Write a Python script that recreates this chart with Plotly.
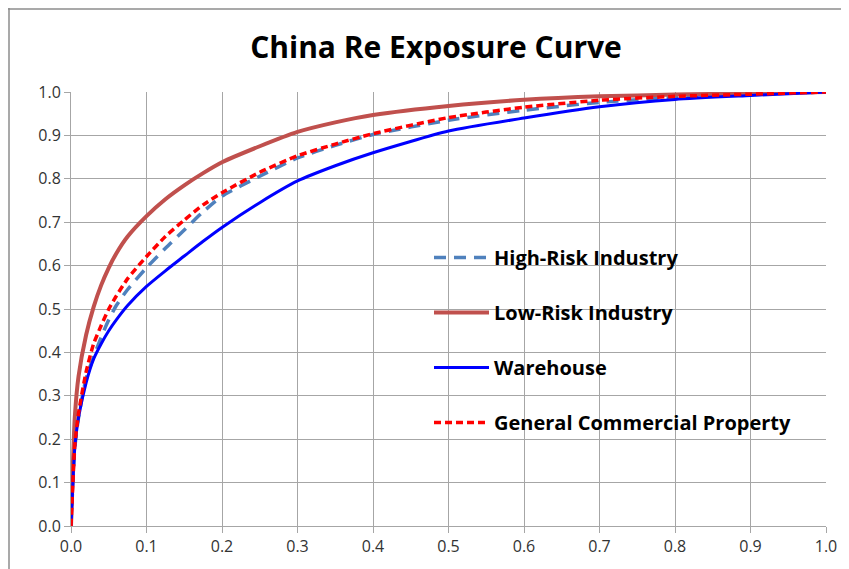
import plotly.graph_objects as go

x_share = [0, 0.0025, 0.005, 0.01, 0.02, 0.03, 0.04, 0.05, 0.06, 0.075, 0.1,
           0.125, 0.15, 0.175, 0.2, 0.25, 0.3, 0.35, 0.4, 0.5, 0.6, 0.7, 0.8,
           0.9, 1.0]

high_risk = [0, 0.10, 0.18, 0.25, 0.34, 0.39, 0.435, 0.475, 0.508, 0.545, 0.595,
             0.64, 0.682, 0.724, 0.76, 0.806, 0.848, 0.877, 0.902, 0.935, 0.958,
             0.976, 0.987, 0.995, 1.0]
low_risk = [0, 0.14, 0.25, 0.345, 0.44, 0.505, 0.555, 0.595, 0.628, 0.667, 0.714,
            0.753, 0.785, 0.813, 0.838, 0.875, 0.908, 0.93, 0.947, 0.968, 0.982,
            0.990, 0.994, 0.997, 1.0]
warehouse = [0, 0.10, 0.18, 0.25, 0.33, 0.385, 0.42, 0.45, 0.475, 0.508, 0.552,
             0.588, 0.622, 0.656, 0.688, 0.745, 0.795, 0.83, 0.860, 0.910, 0.94,
             0.966, 0.983, 0.992, 1.0]
general = [0, 0.10, 0.185, 0.26, 0.355, 0.42, 0.462, 0.50, 0.53, 0.57, 0.621,
           0.667, 0.705, 0.74, 0.768, 0.815, 0.853, 0.88, 0.904, 0.941, 0.965,
           0.981, 0.990, 0.995, 1.0]

names = ["High-Risk Industry", "Low-Risk Industry", "Warehouse",
         "General Commercial Property"]
tick_vals = [0, 0.1, 0.2, 0.3, 0.4, 0.5, 0.6, 0.7, 0.8, 0.9, 1.0]
tick_text = ["0.0", "0.1", "0.2", "0.3", "0.4", "0.5", "0.6", "0.7", "0.8", "0.9", "1.0"]

styles = [
    dict(color="#4F81BD", width=3.5, dash="12px,8px"),
    dict(color="#C0504D", width=4, dash="solid"),
    dict(color="#0000FF", width=3, dash="solid"),
    dict(color="#FF0000", width=3.5, dash="7px,4px"),
]

fig = go.Figure()
for i, (nm, ys) in enumerate(zip(names, [high_risk, low_risk, warehouse, general])):
    st = dict(styles[i], shape="spline", smoothing=0.6)
    fig.add_trace(go.Scatter(x=x_share, y=ys, mode="lines", name=nm,
                             legendgroup=f"g{i}", line=st))

font_fam = "Open Sans, sans-serif"
axis_common = dict(
    range=[0, 1], tickvals=tick_vals, ticktext=tick_text,
    showgrid=True, gridcolor="#A6A6A6", gridwidth=1,
    showline=True, linecolor="#A6A6A6", linewidth=1,
    ticks="outside", ticklen=6, tickcolor="#A6A6A6",
    zeroline=False, tickfont=dict(family=font_fam, size=16, color="#333333"),
    fixedrange=True,
)
fig.update_xaxes(**axis_common)
fig.update_yaxes(**axis_common)

# page has an 8px body offset; plot area target (page px): x 71..826, y 92..526
L, T, R, B = 63, 84, 31, 51
PW, PH = 849 - L - R, 569 - T - B

fig.update_layout(
    width=849, height=569,
    margin=dict(l=L, r=R, t=T, b=B),
    paper_bgcolor="white", plot_bgcolor="white",
    title=dict(text="<b>China Re Exposure Curve</b>", x=(436 - 8) / 849, xanchor="center",
               y=1 - (47 - 8) / 569, yanchor="middle",
               font=dict(family=font_fam, size=30, color="black")),
    legend=dict(x=(429 - 8 - L) / PW, y=1 - (238 - 8 - T) / PH, xanchor="left", yanchor="top",
                bgcolor="rgba(0,0,0,0)", tracegroupgap=26, itemwidth=55,
                font=dict(family=font_fam, size=20, color="black", weight="bold")),
    showlegend=True,
)

# chart frame lines (top and left edges of the chart area)
fx0 = (0 - L) / PW
fy1 = (PH + T) / PH
fig.add_shape(type="line", xref="paper", yref="paper",
              x0=fx0, x1=1.2, y0=fy1 - 1.0 / PH, y1=fy1 - 1.0 / PH,
              line=dict(color="#8C8C8C", width=1.5))
fig.add_shape(type="line", xref="paper", yref="paper",
              x0=fx0 + 1.0 / PW, x1=fx0 + 1.0 / PW, y0=-0.3, y1=fy1,
              line=dict(color="#8C8C8C", width=1.5))

fig.write_html("out.html")
